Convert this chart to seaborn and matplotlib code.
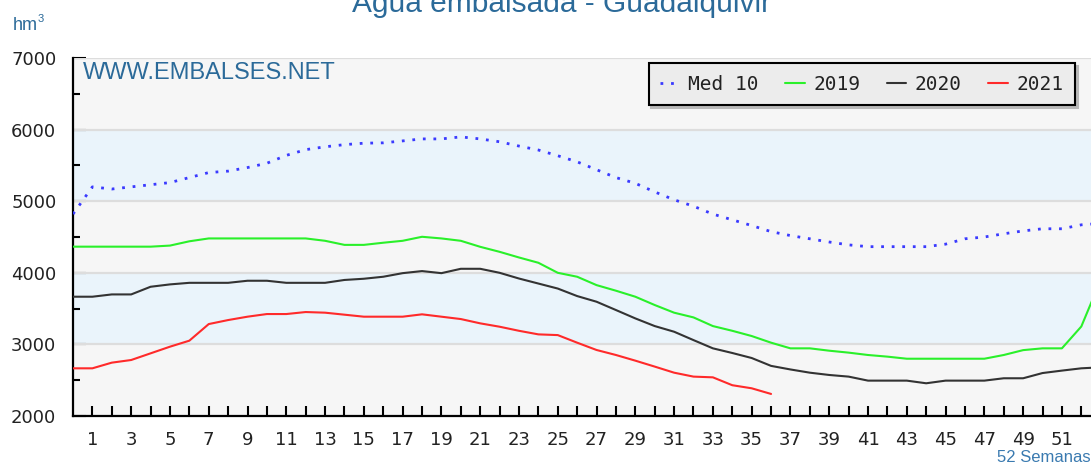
import matplotlib
matplotlib.use("Agg")
import matplotlib.pyplot as plt
import seaborn as sns
import pandas as pd

# ---------------- data ----------------
weeks = list(range(0, 54))
med10 = [4820, 5200, 5170, 5200, 5230, 5260, 5330, 5400, 5420, 5470,
         5530, 5640, 5720, 5760, 5790, 5810, 5815, 5842, 5870, 5870,
         5898, 5870, 5830, 5770, 5715, 5635, 5550, 5440, 5330, 5250,
         5130, 5020, 4930, 4820, 4740, 4660, 4575, 4520, 4475, 4430,
         4390, 4365, 4365, 4365, 4365, 4400, 4475, 4500, 4545, 4585,
         4615, 4615, 4670, 4690]
y2019 = [4365, 4365, 4365, 4365, 4365, 4380, 4440, 4480, 4480, 4480,
         4480, 4480, 4480, 4447, 4390, 4390, 4420, 4447, 4503, 4480,
         4447, 4363, 4293, 4214, 4140, 4000, 3945, 3828, 3750, 3666,
         3550, 3443, 3377, 3256, 3190, 3117, 3024, 2945, 2945, 2912,
         2885, 2852, 2829, 2800, 2800, 2800, 2800, 2800, 2852, 2920,
         2945, 2945, 3250, 3900]
y2020 = [3666, 3666, 3698, 3698, 3805, 3838, 3860, 3860, 3860, 3889,
         3889, 3860, 3860, 3860, 3900, 3917, 3945, 3995, 4024, 3995,
         4056, 4056, 4000, 3920, 3850, 3780, 3675, 3596, 3480, 3363,
         3256, 3177, 3060, 2945, 2880, 2810, 2700, 2650, 2605, 2573,
         2550, 2494, 2494, 2494, 2457, 2494, 2494, 2494, 2527, 2527,
         2600, 2634, 2666, 2680]
weeks2021 = list(range(0, 37))
y2021 = [2666, 2666, 2745, 2782, 2875, 2968, 3052, 3284, 3340, 3387,
         3424, 3424, 3452, 3443, 3415, 3387, 3387, 3387, 3420, 3387,
         3354, 3294, 3247, 3190, 3140, 3130, 3024, 2922, 2852, 2773,
         2690, 2605, 2550, 2540, 2430, 2387, 2308]
series_labels = ["Med 10", "2019", "2020", "2021"]
yticks = [2000, 3000, 4000, 5000, 6000, 7000]
xtick_labels = list(range(1, 52, 2))

# ---------------- style ----------------
sns.set_style("white")
plt.rcParams["font.family"] = ["DejaVu Sans"]

W, H = 1091, 466
fig = plt.figure(figsize=(W / 100, H / 100), dpi=100)
fig.patch.set_facecolor("white")
ax = fig.add_axes([73 / W, 1 - 416 / H, 1 - 73 / W, (416 - 58) / H])

# alternating background bands
band_gray = "#f6f6f6"
band_blue = "#eaf4fb"
for i, (lo, hi) in enumerate(zip(yticks[:-1], yticks[1:])):
    ax.axhspan(lo, hi, color=band_blue if i % 2 == 1 else band_gray, zorder=0, lw=0)
for yv in yticks[1:]:
    ax.axhline(yv, color="#dddddd", lw=1.6, zorder=1)

df_med = pd.DataFrame({"week": weeks, "v": med10})
df19 = pd.DataFrame({"week": weeks, "v": y2019})
df20 = pd.DataFrame({"week": weeks, "v": y2020})
df21 = pd.DataFrame({"week": weeks2021, "v": y2021})

sns.lineplot(data=df_med, x="week", y="v", ax=ax, color="#3a3aff", lw=2.0,
             linestyle=(0, (1, 2.8)), label=series_labels[0], zorder=3)
sns.lineplot(data=df19, x="week", y="v", ax=ax, color="#2af02a", lw=1.5,
             label=series_labels[1], zorder=3)
sns.lineplot(data=df20, x="week", y="v", ax=ax, color="#333333", lw=1.5,
             label=series_labels[2], zorder=3)
sns.lineplot(data=df21, x="week", y="v", ax=ax, color="#ff2a2a", lw=1.5,
             label=series_labels[3], zorder=3)

ax.set_xlim(0, 52.5)
ax.set_ylim(2000, 7000)
ax.set_xlabel("")
ax.set_ylabel("")

# spines
for s in ["top", "right"]:
    ax.spines[s].set_visible(False)
for s in ["left", "bottom"]:
    ax.spines[s].set_color("black")
    ax.spines[s].set_linewidth(1.6)

# ticks
ax.set_yticks(yticks)
ax.set_yticks([2500, 3500, 4500, 5500, 6500], minor=True)
ax.set_xticks(xtick_labels)
ax.set_xticklabels([str(v) for v in xtick_labels])
ax.set_xticks(list(range(2, 53, 2)), minor=True)
ax.tick_params(axis="y", which="major", direction="in", length=9, width=1.5,
               color="black", labelsize=13, pad=12, left=True)
ax.tick_params(axis="y", which="minor", direction="in", length=5, width=1.5,
               color="black", left=True)
ax.tick_params(axis="x", which="both", direction="in", length=7, width=1.5,
               color="black", bottom=True)
ax.tick_params(axis="x", which="major", labelsize=13, pad=11)
for lab in ax.get_xticklabels() + ax.get_yticklabels():
    lab.set_color("#222222")

# legend
leg = ax.legend(loc="upper right", bbox_to_anchor=(1075 / W, 1 - 63 / H),
                bbox_transform=fig.transFigure, ncol=4, frameon=True,
                fancybox=False, shadow={"color": "#b8b8b8", "alpha": 1.0},
                prop={"family": "DejaVu Sans Mono", "size": 14},
                handlelength=1.0, handletextpad=0.45, columnspacing=1.35,
                borderpad=0.6, borderaxespad=0)
leg.get_frame().set_facecolor("#ececec")
leg.get_frame().set_edgecolor("black")
leg.get_frame().set_linewidth(1.5)
leg.get_frame().set_alpha(1.0)
for t in leg.get_texts():
    t.set_color("#222222")

# texts
title_color = "#2b6a99"
ax.text(83 / W, 1 - 62 / H, "WWW.EMBALSES.NET", transform=fig.transFigure,
        ha="left", va="top", fontsize=17, color=title_color,
        family="Liberation Sans")
fig.text(562 / W, 1 - 12 / H, "Agua embalsada - Guadalquivir", ha="center",
         va="baseline", fontsize=21.5, color=title_color, family="Liberation Sans")
fig.text(13 / W, 1 - 30 / H, "hm", ha="left", va="baseline", fontsize=13,
         color=title_color, family="Liberation Sans")
fig.text(38 / W, 1 - 22 / H, "3", ha="left", va="baseline", fontsize=8,
         color=title_color, family="Liberation Sans")
fig.text(1.0, 1 - 462 / H, "52 Semanas", ha="right", va="baseline",
         fontsize=12, color="#3a7ab0", family="Liberation Sans")

fig.savefig("out.png", dpi=100, facecolor="white")
